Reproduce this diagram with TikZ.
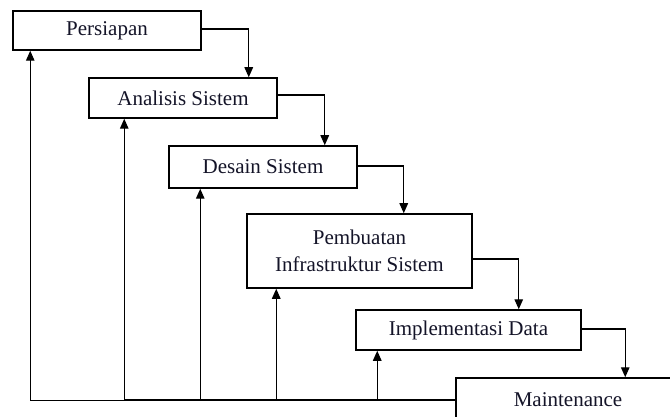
\documentclass[tikz,border=0pt]{standalone}
\usepackage{fontspec}
\setmainfont{Liberation Serif}
\usetikzlibrary{arrows.meta}
\definecolor{txt}{RGB}{20,20,40}
\begin{document}
\begin{tikzpicture}[x=1pt,y=-1pt,
  box/.style={draw=black, line width=1.5pt, fill=white, inner sep=0pt,
    text=txt, font=\fontsize{21}{27}\selectfont, align=center},
  arr/.style={draw=black, line width=1.3pt, -{Triangle[length=10pt,width=8.5pt]}}]
\useasboundingbox (0,0) rectangle (670,417);
\node[box, minimum width=188pt, minimum height=39pt] (p) at (107,30.5) {Persiapan};
\node[box, minimum width=188pt, minimum height=40pt] (a) at (183,98) {Analisis Sistem};
\node[box, minimum width=188pt, minimum height=42pt] (d) at (263,167) {Desain Sistem};
\node[box, minimum width=225pt, minimum height=74pt] (b) at (359.5,251) {Pembuatan\\Infrastruktur Sistem};
\node[box, minimum width=225pt, minimum height=40pt] (i) at (468.5,330) {Implementasi Data};
\node[box, minimum width=224pt, minimum height=44pt] (m) at (568,400) {Maintenance};
% forward flow
\draw[arr] ([yshift=1.5pt]p.east) -| ([xshift=-29pt]a.north east);
\draw[arr] ([yshift=3pt]a.east) -| ([xshift=-33pt]d.north east);
\draw[arr] ([yshift=1pt]d.east) -| ([xshift=-69pt]b.north east);
\draw[arr] ([yshift=-8pt]b.east) -| ([xshift=-63pt]i.north east);
\draw[arr] ([yshift=1pt]i.east) -| ([xshift=170pt]m.north west);
% feedback
\draw[arr, line width=1pt] (m.west) -| ([xshift=18pt]p.south west);
\draw[arr] (m.west) -| ([xshift=36pt]a.south west);
\draw[arr] (m.west) -| ([xshift=32pt]d.south west);
\draw[arr] (m.west) -| ([xshift=30pt]b.south west);
\draw[arr] (m.west) -| ([xshift=22pt]i.south west);
\end{tikzpicture}
\end{document}
